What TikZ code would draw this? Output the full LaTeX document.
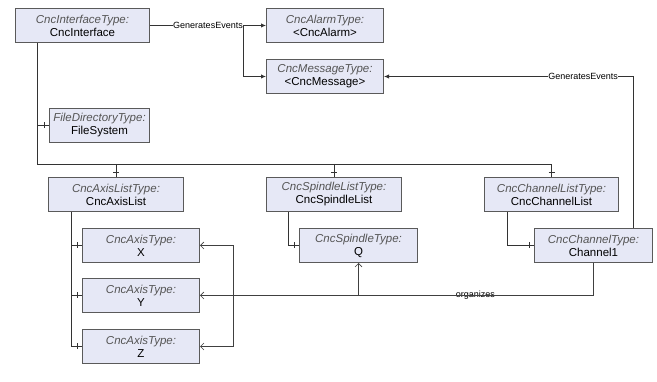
\documentclass[tikz,border=0pt]{standalone}
\usepackage{fontspec}
\setmainfont{Liberation Sans}
\usetikzlibrary{arrows.meta}

\definecolor{boxfill}{RGB}{230,232,246}
\definecolor{boxline}{RGB}{90,90,90}
\definecolor{typegray}{RGB}{85,85,85}

% type name (italic, gray) over browse name
\newcommand{\typebox}[2]{{\itshape\color{typegray}#1:}\\#2}

\begin{document}
\begin{tikzpicture}[x=1pt,y=-1pt,
  cls/.style={draw=boxline, line width=1pt, fill=boxfill, minimum height=34pt,
    inner sep=0pt, align=center, anchor=north west,
    font=\fontsize{11.5}{13}\selectfont},
  conn/.style={draw=black!80, line width=0.9pt},
  gen/.style={conn, -{Latex[length=5pt,width=4.5pt]}},
  org/.style={draw=black!75, line width=0.6pt, -{Straight Barb[length=3.5pt,width=7pt]}},
  lbl/.style={fill=white, inner sep=0.5pt, font=\fontsize{9}{10}\selectfont}]

\useasboundingbox (0,0) rectangle (657,382);

% Objects
\node[cls, minimum width=134pt] (iface) at (15,8) {\typebox{CncInterfaceType}{CncInterface}};
\node[cls, minimum width=117pt] (alarm) at (266,8) {\typebox{CncAlarmType}{<CncAlarm>}};
\node[cls, minimum width=117pt] (msg) at (266,59) {\typebox{CncMessageType}{<CncMessage>}};
\node[cls, minimum width=100pt] (fsys) at (49,108) {\typebox{FileDirectoryType}{FileSystem}};
\node[cls, minimum width=135pt] (axlist) at (48,177) {\typebox{CncAxisListType}{CncAxisList}};
\node[cls, minimum width=135pt] (splist) at (266,177) {\typebox{CncSpindleListType}{CncSpindleList}};
\node[cls, minimum width=134pt] (chlist) at (484,177) {\typebox{CncChannelListType}{CncChannelList}};
\node[cls, minimum width=117pt] (axX) at (82,228) {\typebox{CncAxisType}{X}};
\node[cls, minimum width=117pt] (axY) at (82,278) {\typebox{CncAxisType}{Y}};
\node[cls, minimum width=117pt] (axZ) at (82,329) {\typebox{CncAxisType}{Z}};
\node[cls, minimum width=118pt] (spin) at (299,228) {\typebox{CncSpindleType}{Q}};
\node[cls, minimum width=118pt] (chan) at (534,228) {\typebox{CncChannelType}{Channel1}};

% Components of the interface
\draw[conn] ([xshift=22pt]iface.south west) |- (fsys.west);
\draw[conn] ([xshift=22pt]iface.south west) |- ([yshift=13pt]chlist.north) -- (chlist.north);
\draw[conn] ([yshift=13pt]axlist.north) -- (axlist.north);
\draw[conn] ([yshift=13pt]splist.north) -- (splist.north);

% Components of the lists
\draw[conn] ([xshift=23pt]axlist.south west) |- (axZ.west);
\draw[conn] ([xshift=23pt]axlist.south west) |- (axX.west);
\draw[conn] ([xshift=23pt]axlist.south west) |- (axY.west);
\draw[conn] ([xshift=22pt]splist.south west) |- (spin.west);
\draw[conn] ([xshift=23pt]chlist.south west) |- (chan.west);

% Ticks
\foreach \n in {fsys,axX,axY,axZ,spin,chan}
  \draw[conn] ([xshift=-5pt]\n.west) ++(0,-3) -- ++(0,6);
\foreach \n in {axlist,splist,chlist}
  \draw[conn] ([yshift=5pt]\n.north) ++(-3,0) -- ++(6,0);

% GeneratesEvents
\draw[gen] (iface.east) -- node[lbl]{GeneratesEvents} (alarm.west);
\draw[gen] ([xshift=-23pt]alarm.west) |- (msg.west);
\draw[gen] ([xshift=-20pt]chan.north east) |- node[lbl,pos=0.6]{GeneratesEvents} (msg.east);

% organizes
\draw[draw=black!80, line width=1.2pt] (chan.south) |- ([xshift=33pt]axY.east);
\draw[org] (chan.south) |- node[lbl,pos=0.65]{organizes} (axY.east);
\draw[org] (chan.south) |- ([xshift=33pt]axY.east) |- (axX.east);
\draw[org] (chan.south) |- ([xshift=33pt]axY.east) |- (axZ.east);
\draw[org] (chan.south) |- (spin.south |- axY.east) -- (spin.south);

\end{tikzpicture}
\end{document}
